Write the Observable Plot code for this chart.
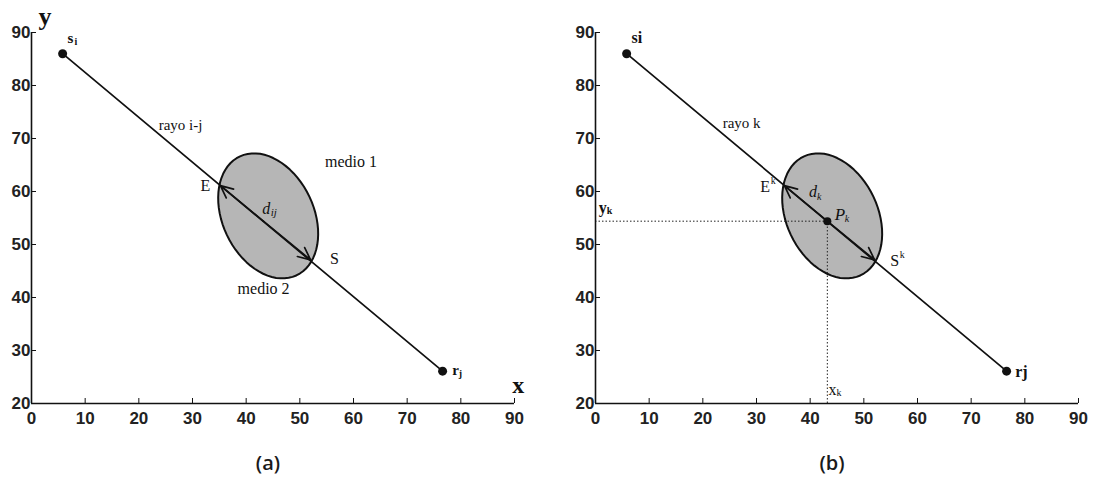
<!DOCTYPE html>
<html><head><meta charset="utf-8">
<script src="https://cdn.jsdelivr.net/npm/d3@7"></script>
<script src="https://cdn.jsdelivr.net/npm/@observablehq/plot@0.6"></script>
<style>
body{margin:0;background:#fff}
#wrap{position:relative;width:1093px;height:480px;overflow:hidden;background:#fff}
.panel{position:absolute;top:0}
.cap{position:absolute;top:449px;font:600 20px "Open Sans",sans-serif;color:#1a1a1a;transform:translateX(-50%)}
</style></head><body><div id="wrap"></div>
<script>
// ---- data ----
const xTicks = [0, 10, 20, 30, 40, 50, 60, 70, 80, 90];
const yTicks = [20, 30, 40, 50, 60, 70, 80, 90];
const rayPoints = [{x: 5.8, y: 86.0}, {x: 76.6, y: 26.1}];   // s_i -> r_j
const entryPoint = {x: 35.2, y: 61.1};   // E
const exitPoint  = {x: 52.0, y: 47.1};   // S
const pointK     = {x: 43.2, y: 54.4};   // P_k
const ellipseCenter = {x: 44.1, y: 55.4};
const ellipseAxes = {major: 12.4, minor: 8.5, tiltDeg: 25};

// ellipse outline (geometry from the parameters above)
const th = ellipseAxes.tiltDeg * Math.PI / 180;
const ellipse = d3.range(0, 73).map(i => {
  const t = 2 * Math.PI * i / 72;
  const a = ellipseAxes.major * Math.cos(t), b = ellipseAxes.minor * Math.sin(t);
  return {x: ellipseCenter.x + a * Math.sin(th) + b * Math.cos(th),
          y: ellipseCenter.y - a * Math.cos(th) + b * Math.sin(th)};
});

const SERIF = "'Liberation Serif', 'DejaVu Serif', serif";
const SANS = "'Liberation Sans', Arial, sans-serif";

function txt(x, y, text, o = {}) {
  return Plot.text([{x, y, text}], {x: "x", y: "y", text: "text", textAnchor: "start",
    fontFamily: SERIF, fontSize: 16, fontWeight: "normal", fill: "#111", ...o});
}

function base(marginLeft, marginRight, extra) {
  return Plot.plot({
    width: marginLeft + marginRight + 483, height: 440,
    marginLeft, marginRight, marginTop: 32, marginBottom: 37,
    x: {domain: [0, 90], ticks: xTicks},
    y: {domain: [20, 90], ticks: yTicks},
    style: {background: "transparent", overflow: "visible", fontFamily: SANS,
            fontWeight: "bold", fontSize: "17px", color: "#222"},
    marks: [
      Plot.line(ellipse, {x: "x", y: "y", fill: "#b6b6b6", stroke: "#111", strokeWidth: 2}),
      ...extra.before,
      Plot.line(rayPoints, {x: "x", y: "y", stroke: "#111", strokeWidth: 1.7}),
      Plot.arrow([pointK], {x1: "x", y1: "y", x2: () => entryPoint.x, y2: () => entryPoint.y,
        stroke: "#111", strokeWidth: 1.7, headLength: 12, headAngle: 50}),
      Plot.arrow([pointK], {x1: "x", y1: "y", x2: () => exitPoint.x, y2: () => exitPoint.y,
        stroke: "#111", strokeWidth: 1.7, headLength: 12, headAngle: 50}),
      Plot.dot(rayPoints, {x: "x", y: "y", r: 4.5, fill: "#111"}),
      Plot.ruleX([0], {y1: 20, y2: 90, stroke: "#111", strokeWidth: 1.6}),
      Plot.ruleY([20], {x1: 0, x2: 90, stroke: "#111", strokeWidth: 1.6}),
      Plot.axisX({ticks: xTicks, tickSize: -5, tickPadding: 13, stroke: "#111", fill: "#222",
        fontWeight: "bold", fontSize: 17, fontFamily: SANS, label: null}),
      Plot.axisY({ticks: yTicks, tickSize: -5, tickPadding: 6, stroke: "#111", fill: "#222",
        fontWeight: "bold", fontSize: 17, fontFamily: SANS, label: null}),
      ...extra.after
    ]
  });
}

const panelA = base(31, 32, {before: [], after: [
  txt(1.3, 93.0, "y", {fontSize: 26, fontWeight: "bold"}),
  txt(89.6, 23.4, "x", {fontSize: 24, fontWeight: "bold"}),
  txt(6.7, 88.9, "s", {fontSize: 15, fontWeight: "bold"}),
  txt(6.7, 88.9, "i", {fontSize: 10, fontWeight: "bold", dx: 7, dy: 3}),
  txt(78.4, 26.2, "r", {fontSize: 15, fontWeight: "bold"}),
  txt(78.4, 26.2, "j", {fontSize: 10, fontWeight: "bold", dx: 6.5, dy: 3}),
  txt(23.7, 72.5, "rayo i-j", {fontSize: 15}),
  txt(54.7, 65.5, "medio 1"),
  txt(31.5, 61.1, "E"),
  txt(43.0, 56.8, "d", {fontStyle: "italic"}),
  txt(43.0, 56.8, "ij", {fontStyle: "italic", fontSize: 11, dx: 8.5, dy: 4}),
  txt(55.6, 47.2, "S"),
  txt(38.4, 41.7, "medio 2")
]});

const panelB = base(49, 15, {before: [
  Plot.ruleY([pointK], {x1: 0, x2: "x", y: "y", stroke: "#222", strokeWidth: 1, strokeDasharray: "1.5,2"}),
  Plot.ruleX([pointK], {y1: 20, y2: "y", x: "x", stroke: "#222", strokeWidth: 1, strokeDasharray: "1.5,2"})
], after: [
  Plot.dot([pointK], {x: "x", y: "y", r: 4, fill: "#111"}),
  txt(6.7, 88.9, "si", {fontSize: 16, fontWeight: "bold"}),
  txt(78.2, 25.9, "rj", {fontSize: 16, fontWeight: "bold"}),
  txt(23.7, 72.8, "rayo k", {fontSize: 15}),
  txt(30.7, 60.9, "E"),
  txt(30.7, 60.9, "k", {fontSize: 10, dx: 10.5, dy: -6}),
  txt(39.8, 60.0, "d", {fontStyle: "italic"}),
  txt(39.8, 60.0, "k", {fontStyle: "italic", fontSize: 10, dx: 8, dy: 5}),
  txt(44.6, 55.7, "P", {fontStyle: "italic", fontSize: 17}),
  txt(44.6, 55.7, "k", {fontStyle: "italic", fontSize: 10, dx: 10, dy: 5}),
  txt(54.9, 46.9, "S"),
  txt(54.9, 46.9, "k", {fontSize: 10, dx: 9.5, dy: -6}),
  txt(0.6, 56.9, "y", {fontSize: 16, fontWeight: "bold"}),
  txt(0.6, 56.9, "k", {fontSize: 10, fontWeight: "bold", dx: 8, dy: 3}),
  txt(43.4, 22.6, "x", {fontSize: 16}),
  txt(43.4, 22.6, "k", {fontSize: 10, dx: 8, dy: 3})
]});

const wrap = document.getElementById("wrap");
panelA.classList.add("panel"); panelA.style.left = "0px";
panelB.classList.add("panel"); panelB.style.left = "546px";
wrap.append(panelA, panelB);
for (const [t, left] of [["(a)", 268], ["(b)", 832]]) {
  const c = document.createElement("div");
  c.className = "cap"; c.textContent = t; c.style.left = left + "px";
  wrap.append(c);
}
</script></body></html>
